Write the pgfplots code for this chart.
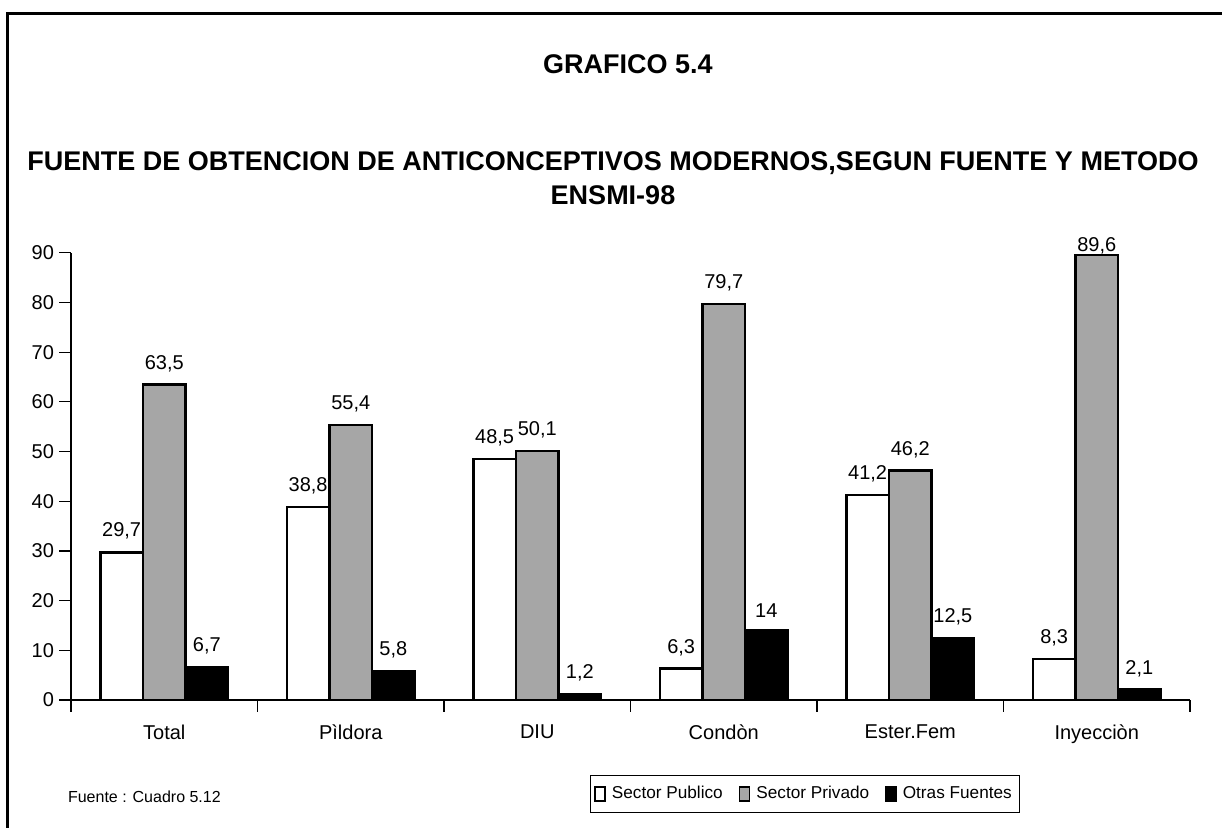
\documentclass[border=0pt]{standalone}
\usepackage{pgfplots}
\pgfplotsset{compat=1.18}
\usepackage{fontspec}
\setmainfont{Liberation Sans}

\begin{document}
\begin{tikzpicture}[x=1pt,y=1pt]
\useasboundingbox (0,0) rectangle (611,414);
% frame (left and top only)
\draw[line width=1.5pt] (3.5,0) -- (3.5,407) -- (611,407);
\node[font=\bfseries\fontsize{13.5}{16}\selectfont] at (314,382) {GRAFICO 5.4};
\node[font=\bfseries\fontsize{13.5}{16}\selectfont] at (306.5,332.5)
  {FUENTE DE OBTENCION DE ANTICONCEPTIVOS MODERNOS,SEGUN FUENTE Y METODO};
\node[font=\bfseries\fontsize{13.5}{16}\selectfont] at (306.5,316.5) {ENSMI-98};
\node[anchor=west, font=\fontsize{8}{9.6}\selectfont] at (30.5,15.5) {Fuente : Cuadro 5.12};

\begin{axis}[
  at={(35.5pt,64pt)}, anchor=south west,
  scale only axis, width=559.5pt, height=223.6pt,
  xmin=0, xmax=6, ymin=0, ymax=90,
  clip=false,
  axis lines=left,
  axis line style={-, line width=0.6pt},
  /pgf/number format/assume math mode=true,
  ybar, bar width=21.3pt,
  tick align=outside,
  tick style={black, line width=0.6pt},
  major tick length=6pt,
  xtick={0,1,...,6},
  xticklabels={,,,,,,},
  extra x ticks={0.5,1.5,2.5,3.5,4.5,5.5},
  extra x tick labels={Total, Pìldora, DIU, Condòn, Ester.Fem, Inyecciòn},
  extra x tick style={major tick length=0pt},
  xticklabel style={font=\fontsize{10}{12}\selectfont, yshift=-9pt},
  ytick={0,10,...,90},
  yticklabel style={font=\fontsize{10}{12}\selectfont, xshift=1pt},
  nodes near coords={\pgfmathprintnumber[use comma,fixed,precision=1]{\pgfplotspointmeta}},
  every node near coord/.append style={font=\fontsize{10}{12}\selectfont, yshift=2.5pt, black},
  legend image code/.code={\draw[#1, line width=0.8pt] (0pt,-3.5pt) rectangle (5pt,3.5pt);},
  legend columns=3,
  legend style={at={(0.656,-0.21)}, anchor=center, draw=black, line width=0.6pt,
    font=\fontsize{8.6}{10}\selectfont, inner xsep=2pt, inner ysep=3.5pt,
    /tikz/every odd column/.append style={column sep=1pt},
    /tikz/every even column/.append style={column sep=6pt}},
]
\addplot[bar shift=-21.3pt, draw=black, fill=white, line width=1.2pt]
  coordinates {(0.5,29.7) (1.5,38.8) (2.5,48.5) (3.5,6.3) (4.5,41.2) (5.5,8.3)};
\addlegendentry{Sector Publico}
\addplot[bar shift=0pt, draw=black, fill=black!35, line width=1.2pt,
  visualization depends on={value \coordindex \as \ci},
  every node near coord/.append style={yshift={ifthenelse(\ci==5,-6,0)}}]
  coordinates {(0.5,63.5) (1.5,55.4) (2.5,50.1) (3.5,79.7) (4.5,46.2) (5.5,89.6)};
\addlegendentry{Sector Privado}
\addplot[bar shift=21.3pt, draw=black, fill=black, line width=1.2pt]
  coordinates {(0.5,6.7) (1.5,5.8) (2.5,1.2) (3.5,14) (4.5,12.5) (5.5,2.1)};
\addlegendentry{Otras Fuentes}
\end{axis}
\end{tikzpicture}
\end{document}
